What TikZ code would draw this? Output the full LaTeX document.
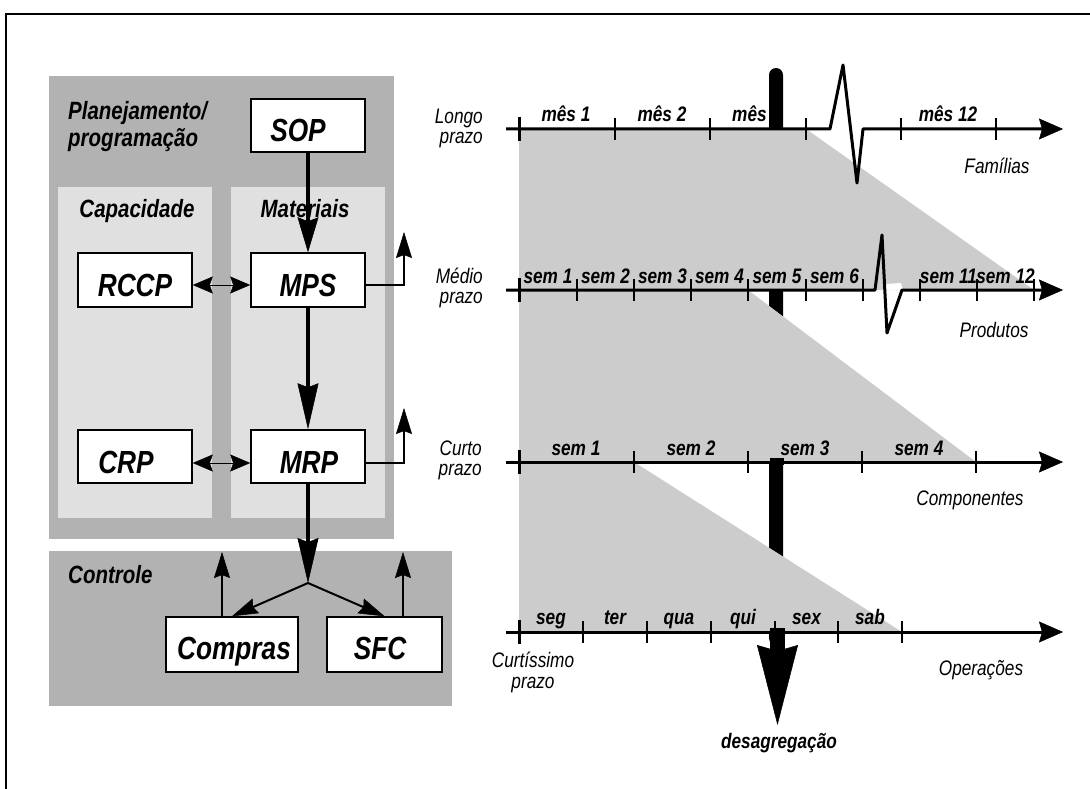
\documentclass[tikz,border=0pt]{standalone}
\usepackage{fontspec}
\setmainfont{Liberation Sans}[FakeStretch=0.82]
\usetikzlibrary{arrows.meta,calc}
\definecolor{dgray}{RGB}{178,178,178}
\definecolor{lgray}{RGB}{224,224,224}
\definecolor{mgray}{RGB}{204,204,204}
\tikzset{
  box/.style={draw, line width=1.5pt, fill=white, inner sep=0pt, minimum width=114pt, minimum height=54pt},
  btxt/.style={font=\fontsize{32}{32}\selectfont\bfseries\itshape, anchor=base, inner sep=0pt},
  sect/.style={font=\fontsize{25}{28}\selectfont\bfseries\itshape, inner sep=0pt},
  tl/.style={font=\fontsize{21}{21}\selectfont\bfseries\itshape, inner sep=0pt, anchor=base},
  rl/.style={font=\fontsize{21}{21}\selectfont\itshape, inner sep=0pt},
  axisline/.style={line width=3pt, line join=round, -{Stealth[length=24pt,width=21pt,inset=3pt,line width=0.5pt]}},
  tickmark/.style={line width=1.5pt},
  firsttick/.style={line width=3pt},
  bigarrow/.style={line width=4.5pt},
  medarrow/.style={line width=2pt, -{Stealth[length=26pt,width=16pt,inset=3pt,line width=0.5pt]}},
  dblarrow/.style={line width=1pt, {Stealth[length=20pt,width=17pt,inset=3pt,line width=0.5pt]}-{Stealth[length=20pt,width=17pt,inset=3pt,line width=0.5pt]}}
}
\begin{document}
\begin{tikzpicture}[x=1pt,y=-1pt]
\useasboundingbox (0,0) rectangle (1090,789);
% frame
\draw[line width=2pt] (6,789) -- (6,14) -- (1090,14);

% ---------- left panel ----------
\fill[dgray] (49,76) rectangle (394,539);
\fill[lgray] (58,187) rectangle (212,518);
\fill[lgray] (231,187) rectangle (385,518);
\fill[dgray] (49,551) rectangle (452,706);

\node[sect, anchor=base west] (plan1) at (68,120) {Planejamento/};
\node[sect, anchor=base west] (plan2) at (68,147) {programação};
\node[sect, anchor=base] (cap) at (137,218) {Capacidade};
\node[sect, anchor=base] (mat) at (305,218) {Materiais};
\node[sect, anchor=base west] (ctl) at (68,583) {Controle};

\node[box, minimum height=53pt] (sop) at (308,125.5) {};
\node[box] (rccp) at (135,280) {};
\node[box] (mps) at (308,280) {};
\node[box, minimum height=53pt] (crp) at (135,456.5) {};
\node[box, minimum height=53pt] (mrp) at (308,456.5) {};
\node[box, minimum width=132pt, minimum height=55pt] (compras) at (232,644.5) {};
\node[box, minimum width=115pt, minimum height=55pt] (sfc) at (384.5,644.5) {};

\node[btxt] (sopT) at (298,142) {SOP};
\node[btxt] (rccpT) at (135,296) {RCCP};
\node[btxt] (mpsT) at (308,296) {MPS};
\node[btxt] (crpT) at (126,473) {CRP};
\node[btxt] (mrpT) at (309,473) {MRP};
\node[btxt] (comprasT) at (234,659) {Compras};
\node[btxt] (sfcT) at (380,659) {SFC};

\draw[bigarrow, -{Stealth[length=35pt,width=21pt,inset=4pt,line width=0.5pt]}] (sop.south) -- (mps.north);
\draw[bigarrow, -{Stealth[length=46pt,width=21pt,inset=4pt,line width=0.5pt]}] (mps.south) -- (mrp.north);
\coordinate (j) at (308,583);
\draw[bigarrow, -{Stealth[length=45pt,width=21pt,inset=4pt,line width=0.5pt]}] (mrp.south) -- (j);
\draw[medarrow] (j) -- (compras.north);
\draw[medarrow] (j) -- (sfc.north);

\coordinate (cup) at (222,552);
\coordinate (sup) at (403,552);
\draw[medarrow] (compras.north -| cup) -- (cup);
\draw[medarrow] (sfc.north -| sup) -- (sup);

\coordinate (mpsout) at (404,232);
\coordinate (mrpout) at (404,408);
\draw[medarrow] ($(mps.east)+(0,5)$) -| (mpsout);
\draw[medarrow] ($(mrp.east)+(0,6.5)$) -| (mrpout);

\draw[dblarrow] ($(rccp.east)+(0,5)$) -- ($(mps.west)+(0,5)$);
\draw[dblarrow] ($(crp.east)+(0,6.5)$) -- ($(mrp.west)+(0,6.5)$);

% ---------- right panel ----------
% disaggregation bar (under the grey bands)
\fill[rounded corners=7pt] (769,68) rectangle (783,645);

\fill[mgray] (519,129) -- (806,129) -- (1034,290) -- (519,290) -- cycle;
\fill[mgray] (519,290) -- (748,290) -- (976,462) -- (519,462) -- cycle;
\fill[mgray] (519,462) -- (634,462) -- (902,632) -- (519,632) -- cycle;
\fill[white] (886,284) -- (901,283) -- (903,290) -- (884,290) -- cycle;

% bar pieces on top
\fill (770,458) rectangle (784,465);

% axes
\draw[axisline] (506,129) -- (830,129) -- (843,65) -- (857,183) -- (863,129) -- (1063,129);
\draw[axisline] (506,290) -- (875,290) -- (882,235) -- (887,333) -- (902,290) -- (1063,290);
\draw[axisline] (506,462) -- (1063,462);
\draw[axisline] (506,632) -- (1063,632);

% ticks
\foreach \y in {129,290,462,632} \draw[firsttick] (519,\y-12) -- (519,\y+12);
\foreach \x in {615,710,806,901,996} \draw[tickmark] (\x,118) -- (\x,140);
\foreach \x in {577,634,691,748,806,863,920,977,1034} \draw[tickmark] (\x,279) -- (\x,301);
\foreach \x in {634,748,862,976} \draw[tickmark] (\x,451) -- (\x,473);
\foreach \x in {583,647,711,775,838,902} \draw[tickmark] (\x,621) -- (\x,643);

% down arrow (desagregacao)
\coordinate (dtop) at (777.5,628);
\coordinate (dtip) at (777.5,725);
\draw[line width=15pt, -{Stealth[length=80pt,width=41pt,inset=6pt,line width=0.5pt]}] (dtop) -- (dtip);
\node[tl] (desag) at (779,748) {desagregação};

% interval labels
\node[tl] (m1) at (566,122) {mês 1};
\node[tl] (m2) at (662,122) {mês 2};
\node[tl, anchor=base west] (m3) at (732,122) {mês};
\node[tl] (m12) at (948,122) {mês 12};

\node[tl] (s1) at (548,283) {sem 1};
\node[tl] (s2) at (605.5,283) {sem 2};
\node[tl] (s3) at (662.5,283) {sem 3};
\node[tl] (s4) at (719.5,283) {sem 4};
\node[tl] (s5) at (777,283) {sem 5};
\node[tl] (s6) at (834.5,283) {sem 6};
\node[tl] (s11) at (948.5,283) {sem 11};
\node[tl] (s12) at (1005.5,283) {sem 12};

\node[tl] (c1) at (576,455) {sem 1};
\node[tl] (c2) at (691,455) {sem 2};
\node[tl] (c3) at (805,455) {sem 3};
\node[tl] (c4) at (919,455) {sem 4};

\node[tl] (d1) at (551,624) {seg};
\node[tl] (d2) at (615,624) {ter};
\node[tl] (d3) at (679,624) {qua};
\node[tl] (d4) at (743,624) {qui};
\node[tl] (d5) at (806.5,624) {sex};
\node[tl] (d6) at (870,624) {sab};

% horizon labels
\node[rl, anchor=base east] (lp1) at (483,124) {Longo};
\node[rl, anchor=base east] (lp2) at (483,144) {prazo};
\node[rl, anchor=base east] (mp1) at (483,283) {Médio};
\node[rl, anchor=base east] (mp2) at (483,303) {prazo};
\node[rl, anchor=base east] (cp1) at (482,455) {Curto};
\node[rl, anchor=base east] (cp2) at (482,475) {prazo};
\node[rl, anchor=base] (xp1) at (533,667) {Curtíssimo};
\node[rl, anchor=base] (xp2) at (533,688) {prazo};

\node[rl, anchor=base] (fam) at (997,174) {Famílias};
\node[rl, anchor=base] (prod) at (994,337) {Produtos};
\node[rl, anchor=base] (comp) at (970,505) {Componentes};
\node[rl, anchor=base] (oper) at (981,675) {Operações};
\end{tikzpicture}
\end{document}
